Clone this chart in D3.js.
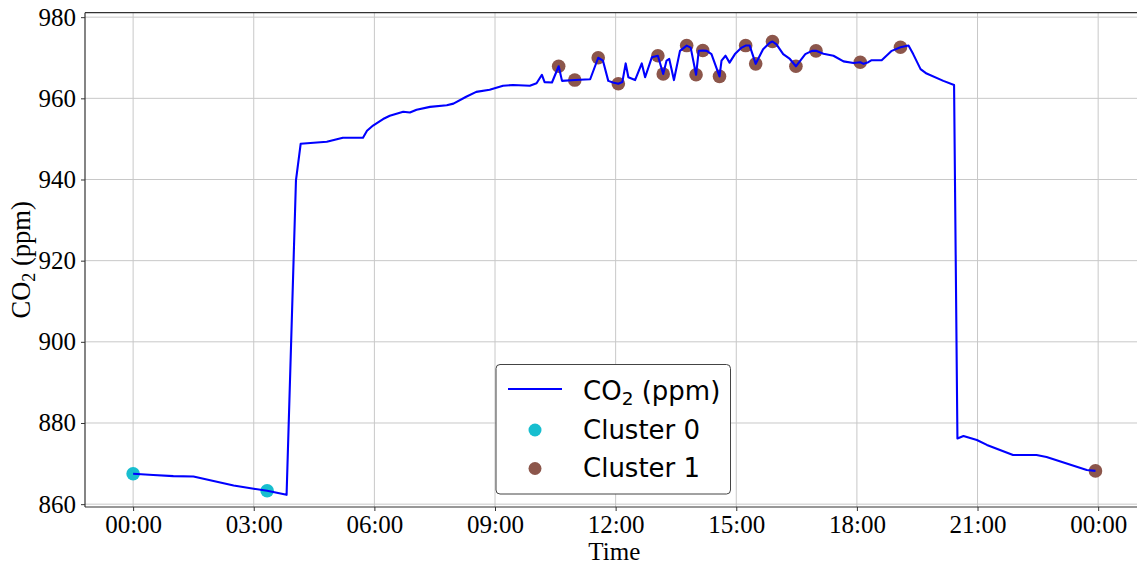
<!DOCTYPE html>
<html><head><meta charset="utf-8">
<script src="https://cdn.jsdelivr.net/npm/d3@7"></script>
<style>body{margin:0;background:#fff}svg{display:block}</style>
</head><body>
<svg id="chart" width="1137" height="564"></svg>
<script>
// ---- data ----
const lineTimes = ["00:00","00:30","01:00","01:30","02:00","02:30","03:00","03:20","03:49","04:03","04:10",
  "04:49","05:13","05:43","05:49","05:58","06:13","06:23","06:43","06:53","07:03","07:23","07:48","07:58",
  "08:17","08:32","08:52","09:02","09:12","09:27","09:52","10:02","10:10","10:14","10:25","10:35","10:40",
  "10:59","11:22","11:34","11:41","11:49","11:56","12:04","12:10","12:15","12:19","12:29","12:39","12:44",
  "12:54","13:03","13:11","13:16","13:20","13:27","13:36","13:46","13:52","14:00","14:04","14:10","14:16",
  "14:23","14:35","14:38","14:44","14:50","14:58","15:08","15:14","15:20","15:29","15:40","15:50","15:54",
  "16:00","16:10","16:20","16:29","16:43","16:53","16:59","17:10","17:25","17:40","17:55","18:05","18:10",
  "18:17","18:22","18:37","18:52","19:05","19:17","19:24","19:35","19:44","20:09","20:25","20:30","20:39",
  "20:59","21:14","21:53","22:28","22:43","23:43","23:56"];
const lineValues = [867.5,867.2,866.9,866.8,865.7,864.6,863.8,863.3,862.3,939.8,948.8,
  949.3,950.3,950.3,952.0,953.3,954.9,955.7,956.7,956.5,957.2,957.9,958.3,958.7,
  960.4,961.6,962.1,962.6,963.1,963.3,963.1,963.7,965.8,964.0,963.9,967.9,964.3,
  964.5,964.7,970.0,969.3,964.3,963.9,963.6,964.0,968.6,965.2,964.5,968.6,965.2,
  970.1,970.5,966.0,969.3,969.7,964.5,971.7,973.0,972.5,965.8,971.7,971.8,971.7,
  970.9,965.4,969.3,970.5,968.8,970.9,972.5,973.0,973.0,968.5,972.1,973.7,974.0,
  973.3,970.9,969.7,967.9,970.9,971.7,971.7,971.0,970.5,969.1,968.7,968.9,968.5,
  968.9,969.4,969.4,971.7,972.6,973.0,970.9,967.2,966.1,964.3,963.3,876.2,876.8,
  875.8,874.6,872.1,872.1,871.6,868.4,868.2];
const cluster0Times = ["00:00","03:20"];
const cluster0Values = [867.5,863.3];
const cluster1Times = ["10:35","10:59","11:34","12:04","13:03","13:11","13:46","14:00","14:10","14:35",
  "15:14","15:29","15:54","16:29","16:59","18:05","19:05","23:56"];
const cluster1Values = [967.9,964.5,970.0,963.6,970.5,966.0,973.0,965.8,971.8,965.4,
  973.0,968.5,974.0,967.9,971.7,968.9,972.6,868.2];
const yTickValues = [860,880,900,920,940,960,980];
const yDomain = [859.3,981.1];
const legendLabels = ["CO\u2082 (ppm)","Cluster 0","Cluster 1"];
const colors = {line:"#0000ff", c0:"#17becf", c1:"#8c564b"};

// ---- layout ----
const W = 1137, H = 564;
const plot = {left:85, top:12.7, bottom:507};
const parse = d3.timeParse("%H:%M");
const lineData = lineTimes.map((t,i)=>({t:parse(t), v:lineValues[i]}));
const c0 = cluster0Times.map((t,i)=>({t:parse(t), v:cluster0Values[i]}));
const c1 = cluster1Times.map((t,i)=>({t:parse(t), v:cluster1Values[i]}));

const ext = d3.extent(lineData, d=>+d.t);
const pad = (ext[1]-ext[0])*0.05;
const pxPerHour = 40.21;
const spanHours = (ext[1]-ext[0]+2*pad)/3.6e6;
const x = d3.scaleTime().domain([new Date(ext[0]-pad), new Date(ext[1]+pad)])
  .range([plot.left, plot.left + spanHours*pxPerHour]);
const y = d3.scaleLinear().domain(yDomain).range([plot.bottom, plot.top]);
const right = Math.max(W, x.range()[1]);

const svg = d3.select("#chart");
svg.append("defs").append("clipPath").attr("id","clip")
  .append("rect").attr("x",plot.left).attr("y",plot.top)
  .attr("width",right-plot.left).attr("height",plot.bottom-plot.top);

const xTicks = x.ticks(d3.timeHour.every(3));
const fmt = d3.timeFormat("%H:%M");

// grid
const grid = svg.append("g").attr("stroke","#c8c8c8").attr("stroke-width",1);
grid.selectAll(".gx").data(xTicks).join("line")
  .attr("x1",d=>x(d)).attr("x2",d=>x(d)).attr("y1",plot.top).attr("y2",plot.bottom);
grid.selectAll(".gy").data(yTickValues).join("line")
  .attr("x1",plot.left).attr("x2",right).attr("y1",d=>y(d)).attr("y2",d=>y(d));

// markers (under line)
const g = svg.append("g").attr("clip-path","url(#clip)");
g.selectAll(".c0").data(c0).join("circle")
  .attr("cx",d=>x(d.t)).attr("cy",d=>y(d.v)).attr("r",6.8).attr("fill",colors.c0);
g.selectAll(".c1").data(c1).join("circle")
  .attr("cx",d=>x(d.t)).attr("cy",d=>y(d.v)).attr("r",6.8).attr("fill",colors.c1);
g.append("path").datum(lineData)
  .attr("d", d3.line().x(d=>x(d.t)).y(d=>y(d.v)))
  .attr("fill","none").attr("stroke",colors.line).attr("stroke-width",2.1).attr("stroke-linejoin","round");

// axes
const serif = "'Liberation Serif', 'Times New Roman', serif";
const xAxis = svg.append("g").attr("transform",`translate(0,${plot.bottom})`)
  .call(d3.axisBottom(x).tickValues(xTicks).tickFormat(fmt).tickSize(4).tickPadding(4));
const yAxis = svg.append("g").attr("transform",`translate(${plot.left},0)`)
  .call(d3.axisLeft(y).tickValues(yTickValues).tickSize(4).tickPadding(5));
[xAxis,yAxis].forEach(a=>{
  a.select(".domain").remove();
  a.selectAll("line").attr("stroke","#333");
  a.selectAll("text").attr("font-family",serif).attr("font-size",25).attr("fill","#000");
});

// spines
const sp = svg.append("g").attr("stroke","#333").attr("stroke-width",1.2).attr("fill","none");
sp.append("line").attr("x1",plot.left).attr("x2",right).attr("y1",plot.top).attr("y2",plot.top);
sp.append("line").attr("x1",plot.left).attr("x2",right).attr("y1",plot.bottom).attr("y2",plot.bottom);
sp.append("line").attr("x1",plot.left).attr("x2",plot.left).attr("y1",plot.top).attr("y2",plot.bottom);

// axis labels
svg.append("text").attr("x",(plot.left+x.range()[1])/2).attr("y",560)
  .attr("text-anchor","middle").attr("font-family",serif).attr("font-size",25).text("Time");
const yl = svg.append("text").attr("transform",`translate(30,${(plot.top+plot.bottom)/2}) rotate(-90)`)
  .attr("text-anchor","middle").attr("font-family",serif).attr("font-size",26.5);
yl.append("tspan").text("CO");
yl.append("tspan").attr("font-size",18).attr("dy",5).text("2");
yl.append("tspan").attr("dy",-5).text(" (ppm)");

// legend
const sans = "'DejaVu Sans', sans-serif";
const lg = svg.append("g");
lg.append("rect").attr("x",496).attr("y",364.5).attr("width",234.5).attr("height",129.5)
  .attr("rx",4).attr("fill","#fff").attr("stroke","#444").attr("stroke-width",1);
const rows = [390, 429, 467.5];
lg.append("line").attr("x1",508).attr("x2",562).attr("y1",rows[0]-1).attr("y2",rows[0]-1)
  .attr("stroke",colors.line).attr("stroke-width",2.1);
lg.append("circle").attr("cx",535).attr("cy",rows[1]+1).attr("r",6.5).attr("fill",colors.c0);
lg.append("circle").attr("cx",535).attr("cy",rows[2]+1).attr("r",6.5).attr("fill",colors.c1);
legendLabels.forEach((lab,i)=>{
  const t = lg.append("text").attr("x",583).attr("y",rows[i]+9.5)
    .attr("font-family",sans).attr("font-size",26).attr("fill","#000");
  if (i===0) {
    t.append("tspan").text("CO");
    t.append("tspan").attr("font-size",18.5).attr("dy",5).text("2");
    t.append("tspan").attr("dy",-5).text(" (ppm)");
  } else t.text(lab);
});
</script>
</body></html>
